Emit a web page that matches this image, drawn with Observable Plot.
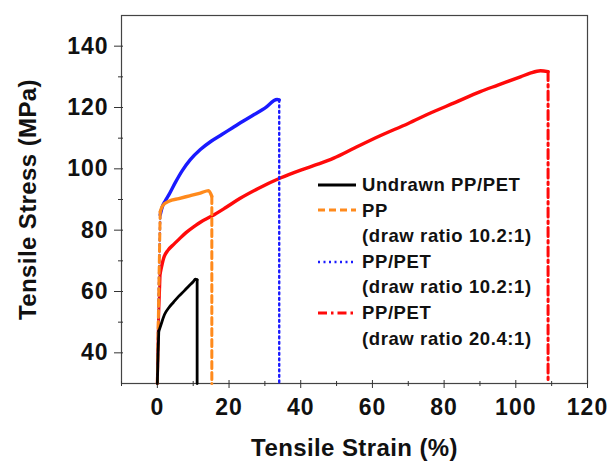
<!DOCTYPE html>
<html>
<head>
<meta charset="utf-8">
<script src="https://cdn.jsdelivr.net/npm/d3@7"></script>
<script src="https://cdn.jsdelivr.net/npm/@observablehq/plot@0.6"></script>
<style>
  html, body { margin: 0; padding: 0; background: #fff; }
  #wrap { position: relative; width: 608px; height: 462px; font-family: "Liberation Sans", Arial, sans-serif; }
  #legend { position: absolute; left: 316px; top: 172px; font-weight: bold; font-size: 18.5px; letter-spacing: 0.6px; color: #111; line-height: 25.6px; }
  #legend .row { display: flex; align-items: center; white-space: nowrap; }
  #legend svg { width: 42px; height: 10px; margin-right: 4px; flex: none; }
  #legend .sub { padding-left: 46px; }
</style>
</head>
<body>
<div id="wrap"><div id="legend"></div></div>
<script>
// Series values (strain %, stress MPa)
const undrawnStrain = [0, 0.2, 0.4, 1.1, 2, 3.2, 4.5, 6, 7.5, 8.8, 10, 10.6, 11.1, 11.1];
const undrawnStress = [30, 40, 47, 49.5, 52.5, 54.7, 56.5, 58.5, 60.2, 61.8, 63.2, 64, 63.8, 30];

const ppStrain = [0, 0.4, 0.8, 1.5, 3.2, 6, 9, 12, 14.3, 15.2, 15.2];
const ppStress = [30, 60, 86, 88, 89.4, 90.3, 91.2, 92.1, 92.9, 91, 30];

const pp1Strain = [0, 0.4, 0.8, 1.5, 2.2, 3.2, 5, 7, 9.2, 12, 15, 18, 21, 24, 27, 30, 33.4, 34, 34];
const pp1Stress = [30, 60, 85, 88, 89.5, 91.5, 95.5, 99.5, 103, 106.3, 109, 111.2, 113.4, 115.6, 117.7, 119.8, 122.6, 122.5, 30];

const pp2Strain = [0, 0.3, 0.8, 1.8, 3, 4.5, 6, 8, 10.6, 12, 15.2, 19, 23, 28, 34.3, 40, 45, 49.2, 55, 62, 70, 76.2, 83, 90.1, 95, 101.3, 104, 106.9, 109, 109];
const pp2Stress = [30, 50, 66, 71, 73.5, 75.3, 77, 79.2, 81.5, 82.6, 84.6, 87.3, 90.3, 93.5, 97, 99.6, 101.6, 103.5, 106.8, 110.7, 114.8, 118.2, 121.6, 125.2, 127.3, 130, 131.2, 132, 131.7, 30];

const seriesNames = ["Undrawn PP/PET", "PP", "PP/PET", "PP/PET"];
const seriesSub = [null, "(draw ratio 10.2:1)", "(draw ratio 10.2:1)", "(draw ratio 20.4:1)"];
const seriesColors = ["#000000", "#ff8a1c", "#1a1aff", "#ff0a0a"];
const seriesDash = [null, "7,4", "2,3.5", "9,4,2.5,4"];
const seriesWidth = [2.8, 3, 2.4, 3];

const xMajorTicks = [0, 20, 40, 60, 80, 100, 120];
const xMinorTicks = [-10, 10, 30, 50, 70, 90, 110];
const yMajorTicks = [40, 60, 80, 100, 120, 140];
const yMinorTicks = [50, 70, 90, 110, 130];

const strains = [undrawnStrain, ppStrain, pp1Strain, pp2Strain];
const stresses = [undrawnStress, ppStress, pp1Stress, pp2Stress];

const series = strains.map((xs, i) => xs.map((x, j) => ({x, y: stresses[i][j]})));

const lineMarks = [];
// draw in order red, blue, orange, black (black on top)
[3, 2, 1, 0].forEach(i => {
  const pts = series[i];
  const n = pts.length;
  const rise = pts.slice(0, 3);
  const body = pts.slice(2, n - 1);
  const drop = pts.slice(n - 2);
  const c = seriesColors[i], d = seriesDash[i], w = seriesWidth[i];
  lineMarks.push(Plot.line(rise, {x: "x", y: "y", stroke: c, strokeWidth: w, strokeDasharray: i === 0 || i === 3 ? null : d}));
  lineMarks.push(Plot.line(body, {x: "x", y: "y", stroke: c, strokeWidth: i === 0 ? w : 3.4, strokeLinejoin: "round", curve: "monotone-x"}));
  lineMarks.push(Plot.line(drop, {x: "x", y: "y", stroke: c, strokeWidth: w, strokeDasharray: d}));
});

const noLabel = () => "";

const chart = Plot.plot({
  width: 608,
  height: 462,
  marginLeft: 121,
  marginRight: 21,
  marginTop: 15,
  marginBottom: 79,
  style: {fontFamily: "'Liberation Sans', Arial, sans-serif", fontWeight: "bold", color: "#111", background: "#fff"},
  x: {domain: [-10, 120]},
  y: {domain: [30, 150]},
  marks: [
    Plot.frame({stroke: "#444", strokeWidth: 1.2}),
    // inward halves of the crossing ticks
    Plot.axisX({ticks: xMajorTicks, tickSize: -3, tickFormat: noLabel, label: null, stroke: "#333"}),
    Plot.axisX({ticks: xMinorTicks, tickSize: -2, tickFormat: noLabel, label: null, stroke: "#333"}),
    Plot.axisY({ticks: yMajorTicks, tickSize: -2, tickFormat: noLabel, label: null, stroke: "#333"}),
    Plot.axisY({ticks: yMinorTicks, tickSize: -2, tickFormat: noLabel, label: null, stroke: "#333"}),
    // outward ticks and labels
    Plot.axisX({ticks: xMinorTicks, tickSize: 3, tickFormat: noLabel, label: null, stroke: "#333"}),
    Plot.axisX({ticks: xMajorTicks, tickSize: 5, tickPadding: 10, fontSize: 23, stroke: "#333",
      label: "Tensile Strain (%)", labelAnchor: "center", labelArrow: "none", labelOffset: 72}),
    Plot.axisY({ticks: yMinorTicks, tickSize: 3, tickFormat: noLabel, label: null, stroke: "#333"}),
    Plot.axisY({ticks: yMajorTicks, tickSize: 7, tickPadding: 6, fontSize: 23, stroke: "#333",
      label: "Tensile Stress (MPa)", labelAnchor: "center", labelArrow: "none", labelOffset: 103}),
    ...lineMarks
  ]
});
chart.querySelectorAll("[aria-label='x-axis tick label'] text, [aria-label='y-axis tick label'] text").forEach(t => t.setAttribute("letter-spacing", "1"));
chart.querySelectorAll("[aria-label='x-axis label'] text, [aria-label='y-axis label'] text").forEach(t => {
  t.setAttribute("font-size", "24");
  t.setAttribute("letter-spacing", "0.4");
});
const wrap = document.getElementById("wrap");
wrap.insertBefore(chart, wrap.firstChild);

// legend
const legend = document.getElementById("legend");
seriesNames.forEach((name, i) => {
  const row = document.createElement("div");
  row.className = "row";
  const dash = seriesDash[i] ? ` stroke-dasharray="${seriesDash[i]}"` : "";
  row.innerHTML = `<svg viewBox="0 0 42 10"><line x1="2" y1="5" x2="40" y2="5" stroke="${seriesColors[i]}" stroke-width="${seriesWidth[i]}"${dash}/></svg><span>${name}</span>`;
  legend.appendChild(row);
  if (seriesSub[i]) {
    const sub = document.createElement("div");
    sub.className = "row sub";
    sub.textContent = seriesSub[i];
    legend.appendChild(sub);
  }
});
</script>
</body>
</html>
